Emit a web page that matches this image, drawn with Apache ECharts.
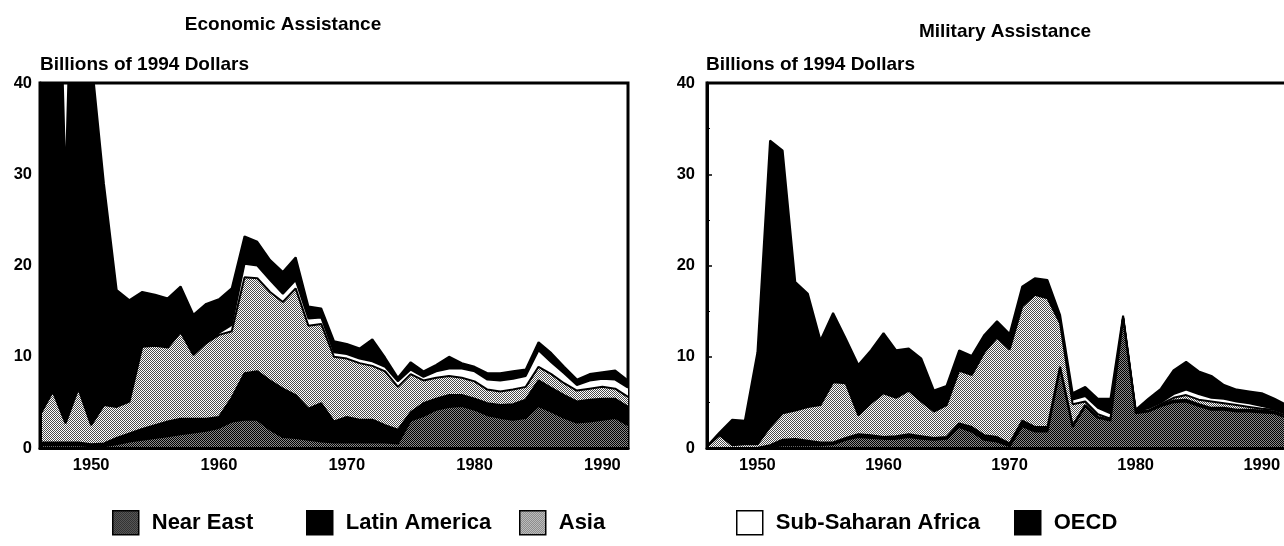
<!DOCTYPE html>
<html>
<head>
<meta charset="utf-8">
<script src="https://cdn.jsdelivr.net/npm/echarts@6/dist/echarts.min.js"></script>
<style>
html, body { margin: 0; padding: 0; background: #fff; }
#chart { width: 1284px; height: 546px; }
</style>
</head>
<body>
<div id="chart"></div>
<script>
const years = [
  1946, 1947, 1948, 1949, 1950, 1951, 1952, 1953, 1954, 1955,
  1956, 1957, 1958, 1959, 1960, 1961, 1962, 1963, 1964, 1965,
  1966, 1967, 1968, 1969, 1970, 1971, 1972, 1973, 1974, 1975,
  1976, 1977, 1978, 1979, 1980, 1981, 1982, 1983, 1984, 1985,
  1986, 1987, 1988, 1989, 1990, 1991, 1992
]
const decadeLabels = ['1950', '1960', '1970', '1980', '1990']
const seriesNames = ['Near East', 'Latin America', 'Asia', 'Sub-Saharan Africa', 'OECD']

// Economic assistance, billions of 1994 dollars (stacked bottom -> top)
const econNearEast = [
  0.3, 0.3, 0.3, 0.3, 0.2, 0.2, 0.4, 0.7, 0.9, 1.1,
  1.3, 1.5, 1.7, 1.9, 2.2, 2.9, 3.1, 3.1, 2.0, 1.2,
  1.1, 0.9, 0.7, 0.6, 0.6, 0.6, 0.6, 0.6, 0.5, 3.0,
  3.5, 4.2, 4.5, 4.6, 4.2, 3.6, 3.3, 3.1, 3.3, 4.6,
  4.0, 3.3, 2.8, 2.9, 3.1, 3.3, 2.5
]
const econLatinAmerica = [
  0.3, 0.3, 0.3, 0.3, 0.2, 0.3, 0.7, 0.9, 1.2, 1.4,
  1.6, 1.7, 1.5, 1.3, 1.2, 2.6, 5.1, 5.3, 5.4, 5.3,
  4.7, 3.4, 4.2, 2.3, 2.8, 2.5, 2.5, 1.9, 1.5, 0.9,
  1.4, 1.2, 1.3, 1.2, 1.2, 1.3, 1.4, 1.7, 2.0, 2.8,
  2.6, 2.5, 2.3, 2.4, 2.3, 2.1, 2.0
]
const econAsia = [
  3.0, 5.6, 2.1, 5.9, 2.1, 4.2, 3.4, 3.5, 9.0, 8.7,
  8.1, 9.5, 7.0, 8.3, 9.0, 7.3, 10.5, 10.2, 9.7, 9.5,
  11.7, 9.1, 8.7, 7.1, 6.4, 6.2, 5.9, 5.9, 4.7, 4.2,
  2.5, 2.3, 2.1, 1.9, 1.9, 1.5, 1.5, 1.6, 1.4, 1.5,
  1.5, 1.3, 1.2, 1.2, 1.3, 1.1, 1.1
]
const econSubSaharan = [
  0, 0, 0, 0, 0, 0, 0, 0, 0, 0,
  0, 0, 0, 0, 0.2, 0.7, 1.5, 1.4, 1.3, 0.9,
  0.9, 0.8, 0.7, 0.5, 0.5, 0.5, 0.5, 0.5, 0.6, 0.5,
  0.4, 0.7, 0.8, 1.0, 1.1, 1.1, 1.2, 1.2, 1.2, 1.8,
  1.3, 1.1, 0.6, 0.9, 0.9, 1.0, 1.0
]
const econOECD = [
  33.9, 73.8, 26.3, 73.5, 40.5, 24.3, 12.8, 11.1, 6.0, 5.6,
  5.4, 5.0, 4.4, 4.3, 3.7, 4.0, 3.0, 2.6, 2.2, 2.4,
  2.5, 1.3, 1.0, 1.2, 1.1, 1.1, 2.4, 1.0, 0.4, 0.8,
  0.6, 0.7, 1.3, 0.6, 0.5, 0.7, 0.8, 0.8, 0.7, 0.9,
  1.0, 0.7, 0.6, 0.7, 0.7, 1.0, 0.8
]

// Military assistance, billions of 1994 dollars
const milNearEast = [
  0, 0, 0, 0, 0, 0.1, 0.3, 0.3, 0.3, 0.3,
  0.4, 0.9, 1.2, 1.1, 1.0, 1.0, 1.2, 1.0, 0.9, 1.0,
  2.3, 1.8, 0.9, 0.7, 0.2, 2.4, 1.8, 1.8, 8.7, 2.3,
  4.6, 3.3, 3.0, 14.2, 3.8, 4.0, 4.6, 5.0, 5.1, 4.6,
  4.2, 4.2, 4.0, 4.0, 3.9, 3.8, 3.3
]
const milLatinAmerica = [
  0, 0, 0, 0, 0, 0.2, 0.6, 0.7, 0.5, 0.3,
  0.2, 0.2, 0.3, 0.3, 0.2, 0.3, 0.3, 0.3, 0.2, 0.2,
  0.4, 0.5, 0.5, 0.5, 0.3, 0.6, 0.5, 0.5, 0.2, 0.2,
  0.1, 0.1, 0.1, 0.05, 0.1, 0.05, 0.1, 0.2, 0.2, 0.2,
  0.2, 0.2, 0.2, 0.2, 0.2, 0.2, 0.2
]
const milAsia = [
  0.15, 1.4, 0.3, 0.4, 0.4, 2.0, 2.9, 3.1, 3.7, 4.1,
  6.6, 6.0, 2.1, 3.5, 4.8, 4.2, 4.8, 3.8, 2.9, 3.5,
  5.8, 5.7, 9.1, 10.9, 10.3, 12.5, 14.5, 14.1, 4.8, 2.3,
  0.4, 0.3, 0.1, 0.05, 0.1, 0.05, 0.1, 0.3, 0.5, 0.5,
  0.7, 0.5, 0.5, 0.3, 0.2, 0.2, 0.2
]
const milSubSaharan = [
  0, 0, 0, 0, 0, 0, 0, 0, 0, 0,
  0, 0, 0, 0, 0, 0, 0, 0, 0, 0,
  0, 0, 0, 0, 0, 0, 0, 0, 0, 0.5,
  0.6, 0.7, 0.6, 0, 0.05, 0.25, 0.2, 0.4, 0.6, 0.6,
  0.4, 0.5, 0.4, 0.4, 0.3, 0.1, 0.1
]
const milOECD = [
  0.05, 0.3, 2.8, 2.6, 10.1, 31.4, 28.8, 14.1, 12.4, 7.1,
  7.6, 4.9, 5.5, 5.8, 6.6, 5.2, 4.6, 4.7, 2.3, 2.1,
  2.2, 2.1, 1.9, 1.8, 1.7, 2.2, 1.8, 2.0, 0.9, 0.7,
  1.0, 1.0, 1.6, 0.2, 0.15, 1.05, 1.5, 2.6, 3.05, 2.5,
  2.4, 1.5, 1.3, 1.3, 1.4, 1.1, 0.9
]

const font = '"Liberation Sans", Arial, sans-serif'

// halftone-like fill: 2x2 checker
function makePattern(dark, light) {
  const c = document.createElement('canvas')
  c.width = 2
  c.height = 2
  const ctx = c.getContext('2d')
  ctx.fillStyle = light
  ctx.fillRect(0, 0, 2, 2)
  ctx.fillStyle = dark
  ctx.fillRect(0, 0, 1, 1)
  ctx.fillRect(1, 1, 1, 1)
  return { image: c, repeat: 'repeat' }
}
const fills = [makePattern('#000', '#8a8a8a'), '#000', makePattern('#4a4a4a', '#fff'), '#fff', '#000']

const isDecade = (idx, v) => decadeLabels.includes(String(v))

function stackSeries(groups, stack, axisIdx) {
  return groups.map((vals, i) => ({
    name: seriesNames[i],
    type: 'line',
    stack,
    xAxisIndex: axisIdx,
    yAxisIndex: axisIdx,
    data: vals,
    symbol: 'none',
    clip: true,
    z: 10 - i, // lower layers on top so their outline stays visible
    lineStyle: { color: '#000', width: 2 },
    itemStyle: { color: fills[i] },
    areaStyle: { color: fills[i], opacity: 1 },
    emphasis: { disabled: true },
  }))
}

// legend boxes sit at uneven positions in the original
const legendLeft = [112, 306, 519, 736, 1014]

const chart = echarts.init(document.getElementById('chart'))
chart.setOption({
  animation: false,
  backgroundColor: '#fff',
  title: [
    { text: 'Economic Assistance', left: 283, top: 15, textAlign: 'center', padding: 0,
      textStyle: { fontSize: 19, fontWeight: 'bold', color: '#000', fontFamily: font } },
    { text: 'Military Assistance', left: 1005, top: 22, textAlign: 'center', padding: 0,
      textStyle: { fontSize: 19, fontWeight: 'bold', color: '#000', fontFamily: font } },
    { text: 'Billions of 1994 Dollars', left: 40, top: 55, padding: 0,
      textStyle: { fontSize: 19, fontWeight: 'bold', color: '#000', fontFamily: font } },
    { text: 'Billions of 1994 Dollars', left: 706, top: 55, padding: 0,
      textStyle: { fontSize: 19, fontWeight: 'bold', color: '#000', fontFamily: font } },
  ],
  legend: seriesNames.map((n, i) => ({
    data: [{ name: n, itemStyle: { color: fills[i], borderColor: '#000', borderWidth: 1.5 } }],
    left: legendLeft[i],
    top: 510,
    padding: 0,
    icon: 'rect',
    itemWidth: 26,
    itemHeight: 24,
    selectedMode: false,
    textStyle: { fontSize: 22, fontWeight: 'bold', color: '#000', fontFamily: font, padding: [0, 0, 0, 8] },
  })),
  grid: [
    { left: 40, top: 83, width: 588, height: 365, show: true, borderColor: '#000', borderWidth: 3, outerBoundsMode: 'none' },
    { left: 707, top: 83, width: 580, height: 365, show: true, borderColor: '#000', borderWidth: 3, outerBoundsMode: 'none' },
  ],
  xAxis: [0, 1].map(i => ({
    type: 'category',
    gridIndex: i,
    data: years,
    boundaryGap: false,
    z: 20,
    axisLine: { lineStyle: { color: '#000', width: 3 } },
    axisTick: { show: false },
    axisLabel: { interval: isDecade, color: '#000', fontWeight: 'bold', fontSize: 16.5, margin: 9, fontFamily: font },
    splitLine: { show: false },
  })),
  yAxis: [0, 1].map(i => ({
    type: 'value',
    gridIndex: i,
    min: 0,
    max: 40,
    interval: 10,
    z: 20,
    axisLine: { show: true, lineStyle: { color: '#000', width: 3 } },
    axisTick: { show: true, inside: true, length: 5, lineStyle: { color: '#000', width: 1.5 } },
    minorTick: { show: true, splitNumber: 2, length: 3, lineStyle: { color: '#000' } },
    axisLabel: { color: '#000', fontWeight: 'bold', fontSize: 16.5, margin: i ? 12 : 8, fontFamily: font },
    splitLine: { show: false },
  })),
  series: [
    ...stackSeries([econNearEast, econLatinAmerica, econAsia, econSubSaharan, econOECD], 'econ', 0),
    ...stackSeries([milNearEast, milLatinAmerica, milAsia, milSubSaharan, milOECD], 'mil', 1),
  ],
})
</script>
</body>
</html>
